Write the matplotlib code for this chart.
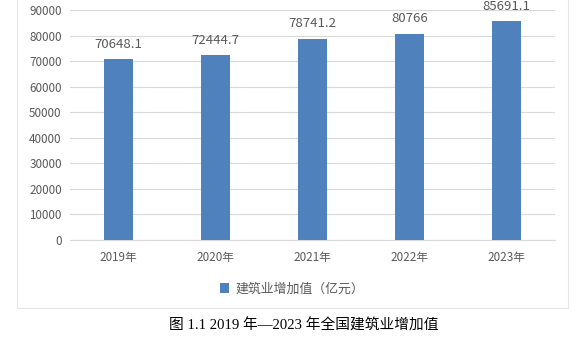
import matplotlib
matplotlib.use("Agg")
import matplotlib.pyplot as plt
from matplotlib.patches import Rectangle

years = ["2019年", "2020年", "2021年", "2022年", "2023年"]
values = [70648.1, 72444.7, 78741.2, 80766, 85691.1]
value_labels = ["70648.1", "72444.7", "78741.2", "80766", "85691.1"]
yticks = [0, 10000, 20000, 30000, 40000, 50000, 60000, 70000, 80000, 90000]
series_name = "建筑业增加值（亿元）"
caption = "图 1.1 2019 年—2023 年全国建筑业增加值"

BAR = "#4F81BD"
TEXT = "#595959"
GRID = "#D9D9D9"

plt.rcParams["font.family"] = ["Noto Sans CJK SC", "DejaVu Sans"]

W, H = 587, 341
fig = plt.figure(figsize=(W / 100, H / 100), dpi=100)

# outer chart frame (light border, top runs off the image)
fig.patches.append(Rectangle((17 / W, 1 - 308 / H), (568 - 17) / W, 320 / H,
                             transform=fig.transFigure, fill=False,
                             edgecolor="#E6E6E6", linewidth=0.8))

ax = fig.add_axes([70 / W, 1 - 240 / H, 485 / W, 230 / H])
x = range(len(years))
bars = ax.bar(x, values, width=0.29, color=BAR, zorder=3)

for xi, v, lab in zip(x, values, value_labels):
    ax.annotate(lab, (xi, v), xytext=(0, 6), textcoords="offset points",
                ha="center", va="bottom", fontsize=9.5, color=TEXT)

ax.set_xlim(-0.5, len(years) - 0.5)
ax.set_ylim(0, 90000)
ax.set_yticks(yticks)
ax.set_yticklabels([str(t) for t in yticks])
ax.set_xticks(list(x))
ax.set_xticklabels(years)
ax.tick_params(axis="y", length=0, pad=6, labelsize=8.4, labelcolor=TEXT)
ax.tick_params(axis="x", length=0, pad=8, labelsize=8.4, labelcolor=TEXT)
ax.grid(axis="y", color=GRID, linewidth=0.8, zorder=0)
for s in ("top", "right", "left"):
    ax.spines[s].set_visible(False)
ax.spines["bottom"].set_color(GRID)
ax.spines["bottom"].set_linewidth(0.8)

ax.legend([bars], [series_name], loc="center", bbox_to_anchor=(292 / W, 1 - 289 / H),
          bbox_transform=fig.transFigure, frameon=False, fontsize=9.3,
          labelcolor=TEXT, handlelength=0.7, handleheight=0.7, handletextpad=0.5)

fig.text(304 / W, 1 - 326 / H, caption, ha="center", va="center", fontsize=10.6,
         color="black", family=["Liberation Serif", "Noto Sans CJK SC"])

fig.savefig("out.png", dpi=100)
